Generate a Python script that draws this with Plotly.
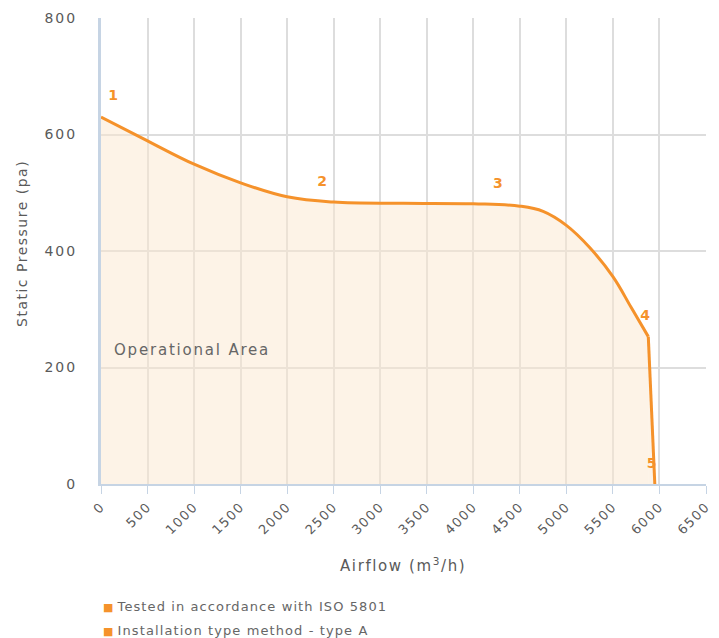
import plotly.graph_objects as go

airflow = [0, 500, 1000, 1500, 2000, 2500, 3250, 4000, 4500, 4750, 5000, 5250, 5500, 5700, 5880]
pressure = [630, 589, 549, 517, 493, 484, 482, 481, 477, 468, 444, 406, 356, 302, 253]
drop_airflow = [5880, 5950]
drop_pressure = [253, 0]

label_text = ["1", "2", "3", "4", "5"]
label_x = [130, 2375, 4265, 5845, 5915]
label_y = [666, 517, 515, 287, 34]

x_ticks = [0, 500, 1000, 1500, 2000, 2500, 3000, 3500, 4000, 4500, 5000, 5500, 6000, 6500]
y_ticks = [0, 200, 400, 600, 800]

legend_items = ["Tested in accordance with ISO 5801", "Installation type method - type A"]

ORANGE = "#f5922b"
FONT = "DejaVu Sans"
GRAY = "#5a5a5a"
FILL = "rgba(251,232,208,0.5)"


def spaced(text, px):
    return f'<span style="letter-spacing:{px}px">{text}</span>'


fig = go.Figure()
fig.add_trace(go.Scatter(
    x=airflow, y=pressure, mode="lines", line=dict(color=ORANGE, width=3, shape="spline", smoothing=1.1),
    fill="tozeroy", fillcolor=FILL, showlegend=False, hoverinfo="skip"))
fig.add_trace(go.Scatter(
    x=drop_airflow, y=drop_pressure, mode="lines", line=dict(color=ORANGE, width=3),
    fill="tozeroy", fillcolor=FILL, showlegend=False, hoverinfo="skip"))
fig.add_trace(go.Scatter(
    x=label_x, y=label_y, mode="text", text=label_text,
    textfont=dict(color=ORANGE, size=14, family=FONT, weight="bold"), showlegend=False))

fig.add_annotation(x=120, y=230, xref="x", yref="y", text=spaced("Operational Area", 1.8),
                   showarrow=False, xanchor="left", yanchor="middle",
                   font=dict(size=15, color="#666", family=FONT))

# axis titles (positions in paper units of the plot area)
fig.add_annotation(x=(403 - 101) / 605, y=(484 - 565) / 466, xref="paper", yref="paper",
                   text=spaced("Airflow (m<sup>3</sup>/h)", 1.6), showarrow=False,
                   xanchor="center", yanchor="middle",
                   font=dict(size=15, color=GRAY, family=FONT))
fig.add_annotation(x=(22 - 101) / 605, y=(484 - 244) / 466, xref="paper", yref="paper",
                   text=spaced("Static Pressure (pa)", 1.5), showarrow=False, textangle=-90,
                   xanchor="center", yanchor="middle",
                   font=dict(size=14, color=GRAY, family=FONT))

# notes below the chart
for i, name in enumerate(legend_items):
    yy = 606 + 24 * i
    fig.add_annotation(x=0, y=(484 - yy) / 466, xref="paper", yref="paper",
                       text=f'<span style="color:{ORANGE};font-size:11px">■</span> ' + spaced(name, 1.1),
                       showarrow=False, xanchor="left", yanchor="middle",
                       font=dict(size=13, color="#666", family=FONT))

# page body has an 8px margin: plot area spans figure px x 93..698, y 10..476
fig.update_layout(
    width=711, height=630, margin=dict(l=93, r=13, t=10, b=154),
    plot_bgcolor="white", paper_bgcolor="white",
    font=dict(family=FONT, color=GRAY, size=13),
    showlegend=False,
    xaxis=dict(range=[0, 6500], tickvals=x_ticks, ticktext=[spaced(str(v), 1.5) for v in x_ticks], tickangle=-45,
               showgrid=True, gridcolor="#dddddd", gridwidth=1.5, showline=True, linecolor="#c6d4e4", linewidth=2,
               ticks="outside", ticklen=8, tickcolor="#c6d4e4", zeroline=False, automargin=False,
               tickfont=dict(size=13, color=GRAY)),
    yaxis=dict(range=[0, 800], tickvals=y_ticks, ticktext=[spaced(str(v), 2) for v in y_ticks],
               showgrid=True, gridcolor="#dddddd", gridwidth=1.5,
               showline=True, linecolor="#c6d4e4", linewidth=3, zeroline=False, ticklabelstandoff=18,
               automargin=False, tickfont=dict(size=14, color=GRAY)),
)

fig.write_html("out.html")
